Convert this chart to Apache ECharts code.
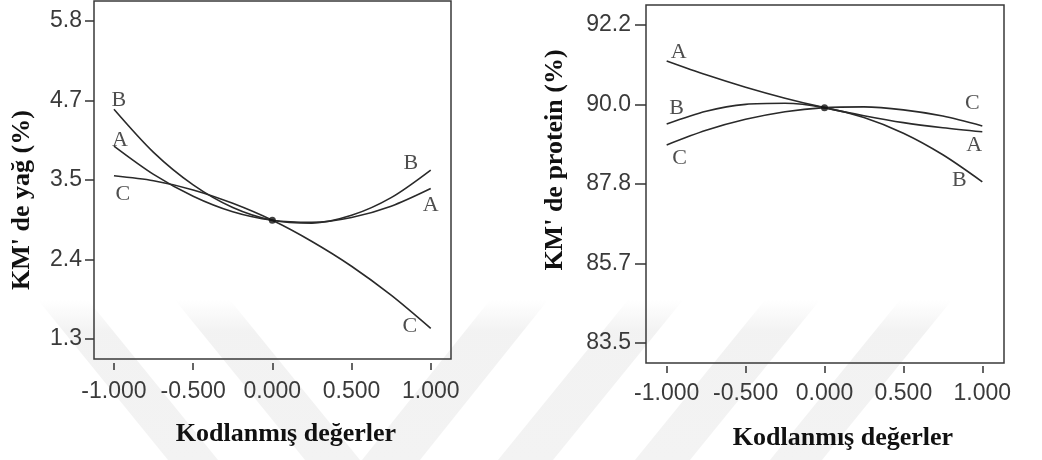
<!DOCTYPE html>
<html>
<head>
<meta charset="utf-8">
<script src="https://cdn.jsdelivr.net/npm/echarts@6/dist/echarts.min.js"></script>
<style>
  html, body { margin: 0; padding: 0; background: #fff; }
  #chart { width: 1042px; height: 460px; }
</style>
</head>
<body>
<div id="chart"></div>
<script>
// Coded factor levels (x axis of both trace plots)
const codedLevels = [-1, -0.75, -0.5, -0.25, 0, 0.25, 0.5, 0.75, 1];

// Fat content traces, KM' de yağ (%)
const fatA = [4.03, 3.63, 3.32, 3.10, 2.98, 2.95, 3.02, 3.18, 3.43];
const fatB = [4.55, 3.94, 3.48, 3.16, 2.98, 2.94, 3.05, 3.30, 3.69];
const fatC = [3.61, 3.54, 3.41, 3.22, 2.98, 2.68, 2.33, 1.92, 1.45];
const fatCenter = 2.98;

// Protein content traces, KM' de protein (%)
const protA = [91.22, 90.84, 90.50, 90.20, 89.94, 89.72, 89.53, 89.39, 89.28];
const protB = [89.49, 89.84, 90.03, 90.06, 89.94, 89.67, 89.24, 88.65, 87.91];
const protC = [88.92, 89.32, 89.62, 89.83, 89.94, 89.96, 89.88, 89.71, 89.44];
const protCenter = 89.94;

// Tick positions and their printed labels
const xTickValues = [-1, -0.5, 0, 0.5, 1];
const xTickLabels = ['-1.000', '-0.500', '0.000', '0.500', '1.000'];
const fatTickValues = [1.3, 2.425, 3.55, 4.675, 5.8];
const fatTickLabels = ['1.3', '2.4', '3.5', '4.7', '5.8'];
const protTickValues = [83.5, 85.675, 87.85, 90.025, 92.2];
const protTickLabels = ['83.5', '85.7', '87.8', '90.0', '92.2'];

const traceNames = ['A', 'B', 'C'];

const chart = echarts.init(document.getElementById('chart'), null, { renderer: 'canvas' });

function pickLabel(values, labels) {
  return function (v) {
    const i = values.findIndex(t => Math.abs(t - v) < 1e-6);
    return i >= 0 ? labels[i] : '';
  };
}

const tickFont = { fontFamily: 'Liberation Sans', fontSize: 23, color: '#3a3a3a' };

function xAxisFor(gridIndex, min, max, offset, margin) {
  return {
    type: 'value', gridIndex, min, max, offset, position: 'bottom',
    axisLine: { show: false, onZero: false },
    axisTick: { show: true, customValues: xTickValues, length: 7, lineStyle: { color: '#333', width: 1.5 } },
    axisLabel: Object.assign({ show: true, customValues: xTickValues, margin,
      formatter: pickLabel(xTickValues, xTickLabels) }, tickFont),
    splitLine: { show: false }
  };
}

function yAxisFor(gridIndex, min, max, values, labels, tickLen, margin) {
  return {
    type: 'value', gridIndex, min, max, position: 'left',
    axisLine: { show: false, onZero: false },
    axisTick: { show: true, customValues: values, length: tickLen, lineStyle: { color: '#333', width: 1.5 } },
    axisLabel: Object.assign({ show: true, customValues: values, margin,
      formatter: pickLabel(values, labels) }, tickFont),
    splitLine: { show: false }
  };
}

function traceSeries(name, ys, axisIdx) {
  return {
    type: 'line', name, xAxisIndex: axisIdx, yAxisIndex: axisIdx,
    data: codedLevels.map((x, i) => [x, ys[i]]),
    smooth: 0.3, symbol: 'none', silent: true,
    lineStyle: { color: '#2a2a2a', width: 1.6 },
    z: 3
  };
}

// Letter tags placed at both ends of each trace
function endTags(traces, axisIdx, offsets) {
  const data = [];
  traces.forEach((ys, k) => {
    const last = codedLevels.length - 1;
    data.push({ value: [codedLevels[0], ys[0]], name: traceNames[k],
      label: { offset: offsets[k][0] } });
    data.push({ value: [codedLevels[last], ys[last]], name: traceNames[k],
      label: { offset: offsets[k][1] } });
  });
  return {
    type: 'scatter', xAxisIndex: axisIdx, yAxisIndex: axisIdx,
    data, symbolSize: 1, silent: true,
    itemStyle: { color: 'rgba(0,0,0,0)' },
    label: { show: true, position: 'inside', formatter: p => p.name,
      fontFamily: 'Liberation Serif', fontSize: 22, color: '#222' },
    z: 4
  };
}

function centerDot(value, axisIdx) {
  return {
    type: 'scatter', xAxisIndex: axisIdx, yAxisIndex: axisIdx,
    data: [[0, value]], symbolSize: 7, silent: true,
    itemStyle: { color: '#111' }, z: 5
  };
}

// Faint diagonal background bands
const bandFill = new echarts.graphic.LinearGradient(0, 0, 0, 1, [
  { offset: 0, color: 'rgba(240,240,240,0)' },
  { offset: 0.2, color: 'rgba(240,240,240,0.85)' },
  { offset: 1, color: 'rgba(243,243,243,1)' }
]);
const bands = [
  [[38, 300], [88, 300], [218, 460], [168, 460]],
  [[175, 300], [230, 300], [360, 460], [305, 460]],
  [[490, 300], [548, 300], [420, 460], [362, 460]],
  [[628, 300], [683, 300], [553, 460], [498, 460]],
  [[765, 300], [820, 300], [690, 460], [635, 460]],
  [[900, 300], [952, 300], [822, 460], [770, 460]]
].map(pts => ({ type: 'polygon', shape: { points: pts }, style: { fill: bandFill }, z: -10, silent: true }));

const titleFont = { fontFamily: 'Liberation Serif', fontWeight: 'bold', fill: '#111' };

const option = {
  backgroundColor: '#fff',
  animation: false,
  grid: [
    { left: 94, top: 1, width: 357, height: 358, show: true, borderColor: '#3a3a3a', borderWidth: 1.5, backgroundColor: 'transparent' },
    { left: 646, top: 5, width: 358, height: 358, show: true, borderColor: '#3a3a3a', borderWidth: 1.5, backgroundColor: 'transparent' }
  ],
  xAxis: [
    xAxisFor(0, -1.126, 1.128, 4, 17),
    xAxisFor(1, -1.131, 1.1375, 3, 16)
  ],
  yAxis: [
    yAxisFor(0, 1.0175, 6.0825, fatTickValues, fatTickLabels, 9, 12),
    yAxisFor(1, 82.95, 92.75, protTickValues, protTickLabels, 11, 15)
  ],
  series: [
    traceSeries('A', fatA, 0),
    traceSeries('B', fatB, 0),
    traceSeries('C', fatC, 0),
    endTags([fatA, fatB, fatC], 0, [
      [[6, -6], [0, 17]],
      [[5, -9], [-20, -7]],
      [[9, 18], [-21, -2]]
    ]),
    centerDot(fatCenter, 0),
    traceSeries('A', protA, 1),
    traceSeries('B', protB, 1),
    traceSeries('C', protC, 1),
    endTags([protA, protB, protC], 1, [
      [[12, -9], [-8, 13]],
      [[10, -16], [-23, -2]],
      [[13, 13], [-10, -23]]
    ]),
    centerDot(protCenter, 1)
  ],
  graphic: bands.concat([
    { type: 'text', x: 286, y: 434, style: Object.assign({ text: 'Kodlanmış değerler', fontSize: 26, align: 'center', verticalAlign: 'middle' }, titleFont), z: 10 },
    { type: 'text', x: 843, y: 438, style: Object.assign({ text: 'Kodlanmış değerler', fontSize: 26, align: 'center', verticalAlign: 'middle' }, titleFont), z: 10 },
    { type: 'text', x: 22, y: 200, rotation: Math.PI / 2, style: Object.assign({ text: "KM' de yağ (%)", fontSize: 26, align: 'center', verticalAlign: 'middle' }, titleFont), z: 10 },
    { type: 'text', x: 555, y: 160, rotation: Math.PI / 2, style: Object.assign({ text: "KM' de protein (%)", fontSize: 26, align: 'center', verticalAlign: 'middle' }, titleFont), z: 10 }
  ])
};

chart.setOption(option);
</script>
</body>
</html>
